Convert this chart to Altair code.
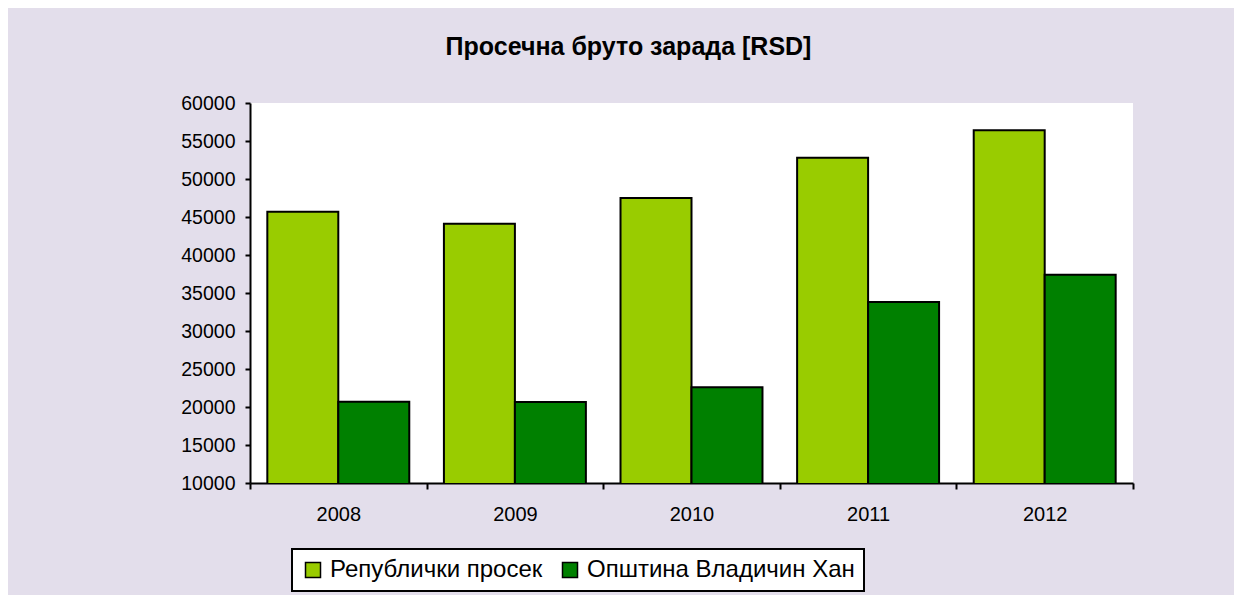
import altair as alt
import pandas as pd

years = ["2008", "2009", "2010", "2011", "2012"]
series_names = ["Републички просек", "Општина Владичин Хан"]
republic_avg = [45700, 44100, 47500, 52800, 56400]
vladicin_han = [20700, 20650, 22600, 33800, 37400]
colors = ["#99CC00", "#008000"]

rows = []
for i, y in enumerate(years):
    rows.append({"year": y, "series": series_names[0], "value": republic_avg[i]})
    rows.append({"year": y, "series": series_names[1], "value": vladicin_han[i]})
df = pd.DataFrame(rows)

FONT = "Liberation Sans"

chart = alt.Chart(df).mark_bar(stroke="black", strokeWidth=2, clip=True).encode(
    x=alt.X("year:N", sort=years,
            scale=alt.Scale(paddingInner=0, paddingOuter=0),
            axis=alt.Axis(title=None, labelAngle=0, labelFont=FONT, labelFontSize=20,
                          labelColor="black", labelPadding=15, tickBand="extent",
                          tickSize=6, tickWidth=2, tickColor="black",
                          domainColor="black", domainWidth=2)),
    xOffset=alt.XOffset("series:N", sort=series_names,
                        scale=alt.Scale(paddingInner=0, paddingOuter=0.244)),
    y=alt.Y("value:Q",
            scale=alt.Scale(domain=[10000, 60000], nice=False, zero=False),
            axis=alt.Axis(title=None, values=list(range(10000, 60001, 5000)), format="d",
                          labelFont=FONT, labelFontSize=19.5, labelColor="black",
                          labelPadding=10, tickSize=5, tickWidth=2, tickColor="black",
                          domainColor="black", domainWidth=2, grid=False)),
    color=alt.Color("series:N", sort=series_names,
                    scale=alt.Scale(domain=series_names, range=colors),
                    legend=alt.Legend(title=None, orient="none", legendX=42, legendY=446,
                                      direction="horizontal", symbolType="square",
                                      symbolSize=225, symbolStrokeColor="black",
                                      symbolStrokeWidth=1.5, symbolOpacity=1,
                                      labelFont=FONT, labelFontSize=24, labelColor="black",
                                      labelOffset=5, columnPadding=15,
                                      fillColor="white", strokeColor="black",
                                      padding=9, labelLimit=500)),
).properties(
    width=883,
    height=380,
    title=alt.TitleParams("Просечна бруто зарада [RSD]", font=FONT, fontSize=25,
                          fontWeight="bold", color="black", anchor="middle",
                          dx=-63, offset=33),
    background="#E3DEEB",
    padding={"left": 242, "top": 95, "right": 101, "bottom": 112},
    autosize=alt.AutoSizeParams(type="none"),
).configure_view(fill="white", stroke=None).configure_legend(strokeWidth=2)

chart.save("out.html", embed_options={"renderer": "svg", "actions": False})
